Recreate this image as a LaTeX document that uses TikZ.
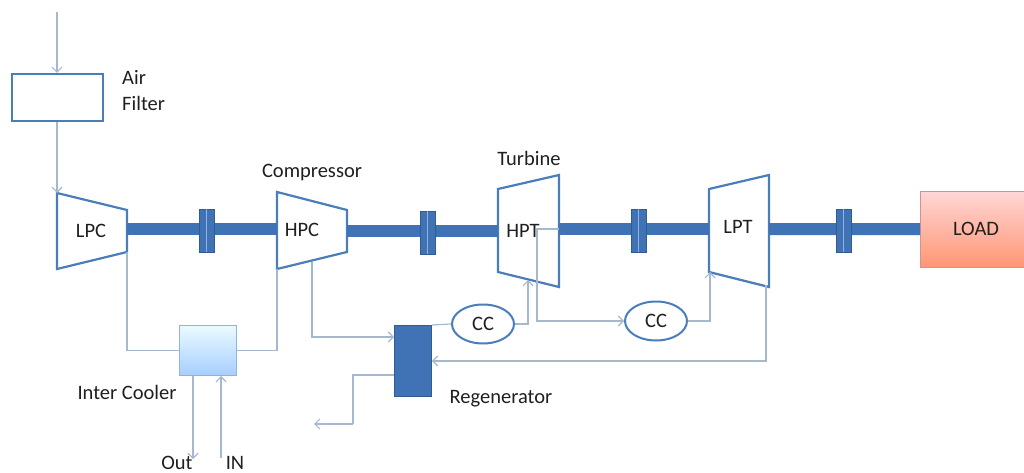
\documentclass[tikz,border=0pt]{standalone}
\usepackage{fontspec}
\setmainfont{Carlito}
\usetikzlibrary{arrows.meta, positioning, shapes.geometric}

\definecolor{casingblue}{HTML}{4A7EBB}
\definecolor{shaftblue}{HTML}{3F73B5}
\definecolor{pipegrey}{HTML}{A6B8CE}

\tikzset{
	casing/.style={draw=casingblue, line width=2.2, line join=miter},
	shaft/.style={draw=shaftblue, line width=12},
	coupling/.style={draw=shaftblue!80!black, fill=shaftblue, line width=0.8, minimum width=15, minimum height=43, inner sep=0},
	pipe/.style={draw=pipegrey, line width=1.2},
	flow/.style={pipe, -{Straight Barb[length=5, width=10]}},
	label/.style={text=black!88, inner sep=0, font=\fontsize{20.5}{24}\selectfont},
	burner/.style={ellipse, draw=casingblue, line width=2, fill=white, minimum width=62, minimum height=39, inner sep=0, label},
	box/.style={rectangle, inner sep=0, anchor=north west}
}

\begin{document}
\begin{tikzpicture}[x=1pt, y=-1pt]
	\useasboundingbox (0, 0) rectangle (1024, 473);

	% casings
	\draw[casing] (57, 193) coordinate (lpctl) -- (127, 210) coordinate (lpctr) -- (127, 252) coordinate (lpcbr) -- (57, 269) -- cycle;
	\draw[casing] (277, 192) coordinate (hpctl) -- (347, 210) coordinate (hpctr) -- (347, 252) -- (277, 269) coordinate (hpcbl) -- cycle;
	\draw[casing] (498, 189) -- (559, 175) -- (559, 287) -- (498, 272) -- cycle;
	\draw[casing] (709, 189) -- (769, 175) -- (769, 287) -- (709, 272) -- cycle;
	\node[label] (lpc) at (91, 231) {LPC};
	\node[label] (hpc) at (302, 230) {HPC};
	\node[label] (hpt) at (523, 231) {HPT};
	\node[label] (lpt) at (738, 227) {LPT};

	% shaft line
	\coordinate (lpcout) at (127, 229);
	\coordinate (hpcin) at (277, 229);
	\coordinate (hpcout) at (347, 231);
	\coordinate (hptin) at (498, 231);
	\coordinate (hptout) at (559, 229);
	\coordinate (lptin) at (709, 229);
	\coordinate (lptout) at (769, 229);
	\node[box, draw=red!45!gray!60, top color=red!16, bottom color=red!50!orange!55, minimum width=104, minimum height=76] (load) at (920, 191) {};
	\node[label] (loadtext) at (976, 229) {LOAD};
	\foreach \n/\a/\b/\x/\y in {cpa/lpcout/hpcin/206.5/230.5, cpb/hpcout/hptin/427.5/232.5, cpc/hptout/lptin/638.5/230.5, cpd/lptout/load/843.5/230.5} {
		\draw[shaft] (\a) -- (\b);
		\node[coupling] (\n) at (\x, \y) {};
		\draw[draw=casingblue!60!white, line width=0.7] (\n.north) -- (\n.south);
	}

	% air intake
	\coordinate (intake) at (57, 12);
	\node[box, draw=casingblue, line width=2, minimum width=91, minimum height=47] (filter) at (11, 73) {};
	\draw[flow] (intake) -- (intake |- filter.north);
	\draw[flow] (intake |- filter.south) -- (lpctl);
	\node[label, anchor=west] (air) at (122, 77) {Air};
	\node[label, anchor=west] (airfilter) at (122, 103) {Filter};

	% inter cooler
	\node[box, draw=casingblue!60!white, line width=1, top color=blue!20!cyan!8!white, bottom color=blue!55!cyan!35!white, minimum width=57, minimum height=50] (cooler) at (179, 325) {};
	\draw[pipe] (lpcbr) -- (lpcbr |- cooler.west) -- (cooler.west);
	\draw[pipe] (cooler.east) -- (hpcbl |- cooler.east) -- (hpcbl);
	\coordinate (coolerout) at (193, 459);
	\coordinate (coolerin) at (221, 458);
	\draw[flow] (coolerout |- cooler.south) -- (coolerout);
	\draw[flow] (coolerin) -- (coolerin |- cooler.south);
	\node[label] (coolertext) at (127, 392) {Inter Cooler};
	\node[label, anchor=base] (outtext) at (177, 469) {Out};
	\node[label, anchor=base] (intext) at (235, 469) {IN};

	% regenerator and burners
	\node[box, draw=shaftblue!80!black, fill=shaftblue, line width=0.8, minimum width=37, minimum height=71] (regen) at (394, 325) {};
	\node[burner] (cca) at (483, 324) {CC};
	\node[burner] (ccb) at (656, 321) {CC};
	\coordinate (hpcdown) at (312, 262);
	\coordinate (exhaust) at (314, 424);
	\coordinate (hptfeed) at (528, 280);
	\coordinate (hpttap) at (559, 229);
	\coordinate (lptfeed) at (710, 272);
	\coordinate (lptdown) at (766, 285);
	\draw[flow] (hpcdown) -- (312, 337) -- (regen.west |- 0, 337);
	\draw[pipe] (regen.west |- 0, 375) -- (353, 375) -- (353, 424);
	\draw[flow] (353, 424) -- (exhaust);
	\draw[pipe] (regen.north east) -- (cca.west);
	\draw[flow] (cca.east) -- (hptfeed |- cca.east) -- (hptfeed);
	\draw[flow] (hpttap) -- (537, 229) -- (537, 321) -- (ccb.west);
	\draw[flow] (ccb.east) -- (lptfeed |- ccb.east) -- (lptfeed);
	\draw[flow] (lptdown) -- (766, 361) -- (regen.east |- 0, 361);
	\node[label] (regentext) at (501, 399) {Regenerator};

	\node[label] (comptext) at (312, 173) {Compressor};
	\node[label] (turbtext) at (529, 158) {Turbine};
\end{tikzpicture}
\end{document}
